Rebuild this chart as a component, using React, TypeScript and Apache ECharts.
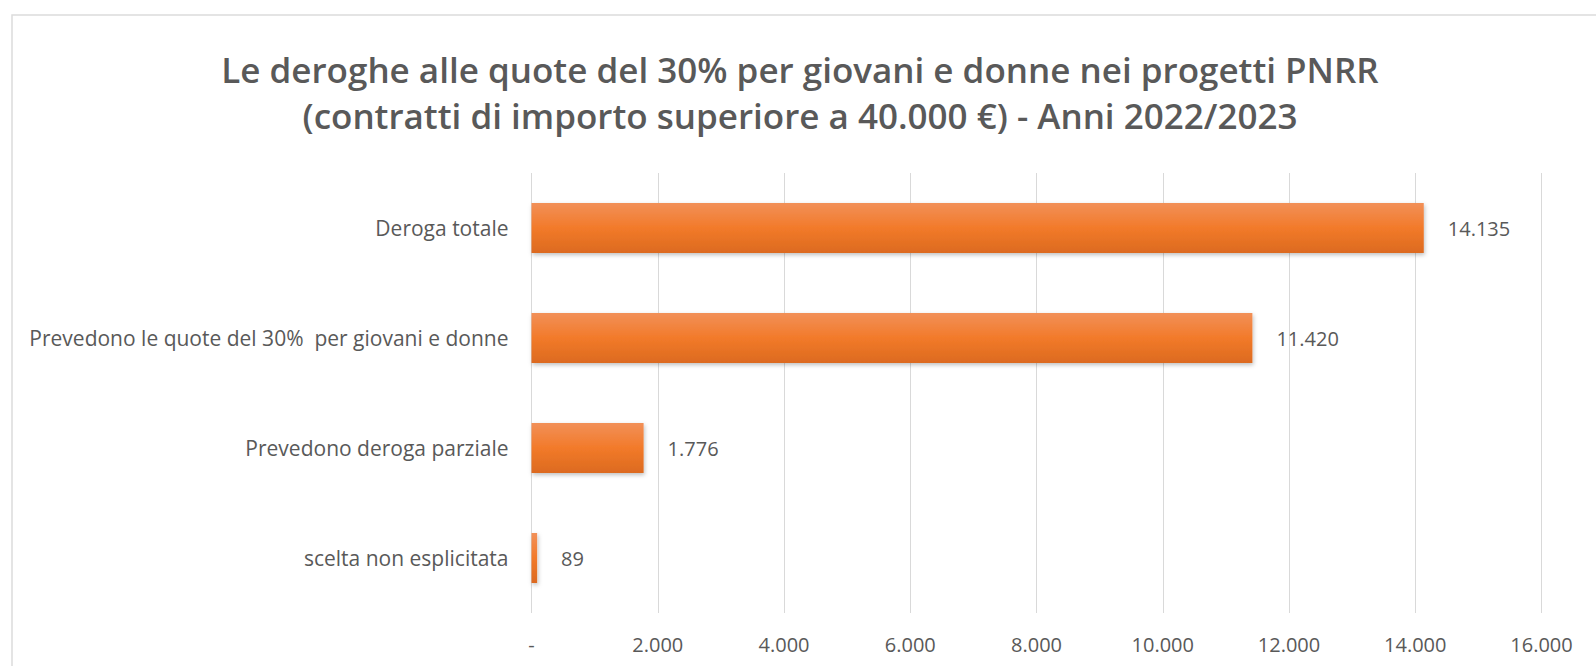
import React, { useEffect, useRef } from "react";
import * as echarts from "echarts";

const titleLines = [
  "Le deroghe alle quote del 30% per giovani e donne nei progetti PNRR",
  "(contratti di importo superiore a 40.000 €) - Anni 2022/2023",
];
const categories = [
  "Deroga totale",
  "Prevedono le quote del 30%  per giovani e donne",
  "Prevedono deroga parziale",
  "scelta non esplicitata",
];
const values = [14135, 11420, 1776, 89];
const tickValues = [0, 2000, 4000, 6000, 8000, 10000, 12000, 14000, 16000];
const tickLabels = ["-", "2.000", "4.000", "6.000", "8.000", "10.000", "12.000", "14.000", "16.000"];
const valueLabels = ["14.135", "11.420", "1.776", "89"];

const FONT = "'Open Sans', sans-serif";
const GRAY = "#595959";

export default function App() {
  const ref = useRef<HTMLDivElement>(null);
  useEffect(() => {
    document.body.style.margin = "0";
    if (!ref.current) return;
    const chart = echarts.init(ref.current, undefined, { renderer: "svg" });
    const catsReversed = [...categories].reverse();
    const valsReversed = [...values].reverse();
    const labelsReversed = [...valueLabels].reverse();
    chart.setOption({
      animation: false,
      backgroundColor: "#ffffff",
      title: {
        text: titleLines.join("\n"),
        left: 795,
        top: 41,
        textAlign: "center",
        textStyle: {
          fontFamily: FONT,
          fontSize: 35,
          fontWeight: 600,
          color: GRAY,
          lineHeight: 46,
        },
      },
      graphic: [
        {
          type: "rect",
          shape: { x: 12, y: 15, width: 1600, height: 700 },
          style: { fill: "none", stroke: "#dcdcdc", lineWidth: 1.5 },
          silent: true,
        },
      ],
      grid: { left: 531.5, right: 54.5, top: 173, bottom: 53, containLabel: false },
      xAxis: {
        type: "value",
        min: 0,
        max: 16000,
        interval: 2000,
        axisLine: { show: false },
        axisTick: { show: false },
        splitLine: { show: true, lineStyle: { color: "#d9d9d9", width: 1 } },
        axisLabel: {
          margin: 21,
          fontFamily: FONT,
          fontSize: 20,
          color: GRAY,
          formatter: (v: number) => {
            const i = tickValues.indexOf(v);
            return i >= 0 ? tickLabels[i] : "";
          },
        },
      },
      yAxis: {
        type: "category",
        data: catsReversed,
        axisLine: { show: false },
        axisTick: { show: false },
        axisLabel: {
          margin: 23,
          fontFamily: FONT,
          fontSize: 21,
          color: GRAY,
        },
      },
      series: [
        {
          type: "bar",
          data: valsReversed,
          barWidth: 50,
          itemStyle: {
            color: new echarts.graphic.LinearGradient(0, 0, 0, 1, [
              { offset: 0, color: "#f29058" },
              { offset: 0.5, color: "#f27a2a" },
              { offset: 1, color: "#dc6a1f" },
            ]),
            shadowColor: "rgba(0,0,0,0.25)",
            shadowBlur: 4,
            shadowOffsetX: 1,
            shadowOffsetY: 2,
          },
          label: {
            show: true,
            position: "right",
            distance: 24,
            fontFamily: FONT,
            fontSize: 20,
            color: GRAY,
            formatter: (p: any) => labelsReversed[p.dataIndex],
          },
        },
      ],
    });
    return () => chart.dispose();
  }, []);
  return <div ref={ref} style={{ width: 1596, height: 666 }} />;
}
